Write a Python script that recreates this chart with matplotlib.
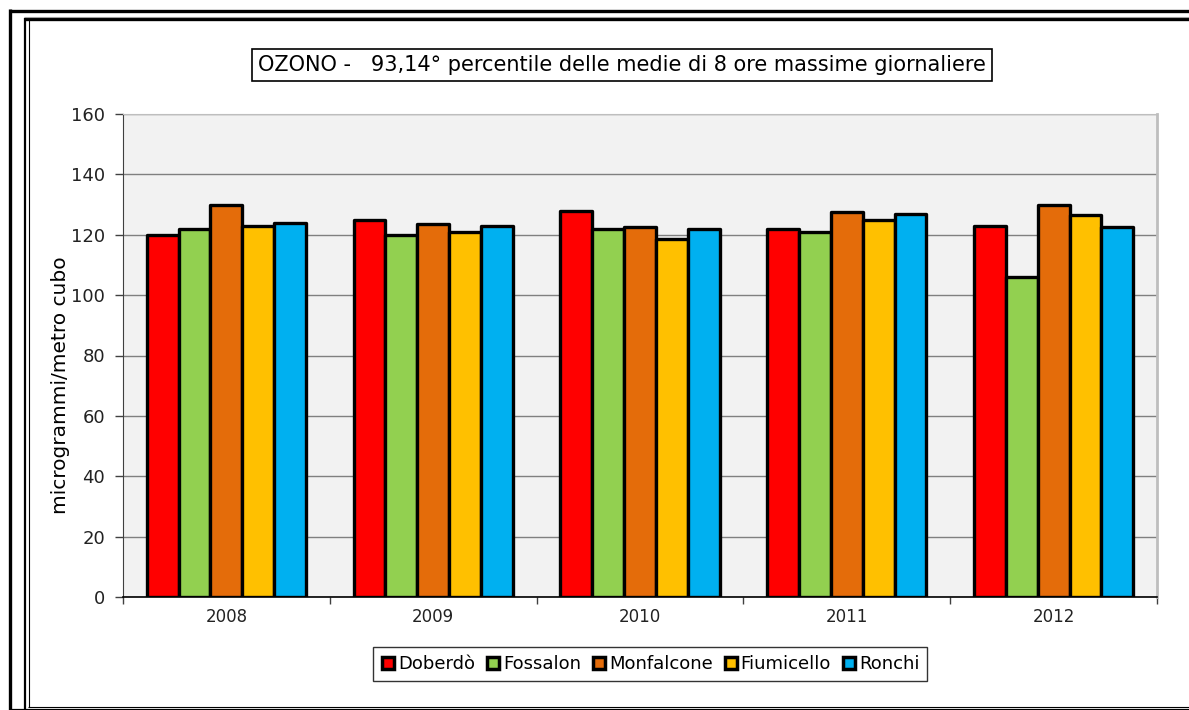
import matplotlib
matplotlib.use("Agg")
import matplotlib.pyplot as plt
from matplotlib.lines import Line2D
import numpy as np

plt.rcParams['font.family'] = ['DejaVu Sans']

years = ['2008', '2009', '2010', '2011', '2012']
stations = ['Doberdò', 'Fossalon', 'Monfalcone', 'Fiumicello', 'Ronchi']
colors = ['#FF0000', '#92D050', '#E46C0A', '#FFC000', '#00B0F0']

doberdo = [120, 125, 128, 122, 123]
fossalon = [122, 120, 122, 121, 106]
monfalcone = [130, 123.5, 122.5, 127.5, 130]
fiumicello = [123, 121, 118.5, 125, 126.5]
ronchi = [124, 123, 122, 127, 122.5]
series = [doberdo, fossalon, monfalcone, fiumicello, ronchi]

yticks = [0, 20, 40, 60, 80, 100, 120, 140, 160]

W, H = 1189, 710
fig = plt.figure(figsize=(W / 100, H / 100), dpi=100)
fig.patch.set_facecolor('white')

def px(x):
    return x / W

def py(y):
    return 1 - y / H

ax = fig.add_axes([px(123), py(597), px(1157) - px(123), py(114) - py(597)])
ax.set_facecolor('#F2F2F2')

n = len(stations)
group = 1 / 1.3
bw = group / n
x = np.arange(len(years))
for i, (vals, col) in enumerate(zip(series, colors)):
    offs = -group / 2 + bw * (i + 0.5)
    bars = ax.bar(x + offs, vals, width=bw, color=col, edgecolor='black',
                  linewidth=2.4, zorder=3, label=stations[i])
    for b in bars:
        b.set_joinstyle('round')

ax.set_xlim(-0.5, len(years) - 0.5)
ax.set_ylim(0, 160)
ax.set_yticks(yticks)
ax.set_yticklabels([str(v) for v in yticks], fontsize=13, color='#222222')
ax.yaxis.grid(True, color='#808080', linewidth=1.0, zorder=0)
ax.set_axisbelow(True)

# category boundaries carry the tick marks, labels sit at the centres
ax.set_xticks(np.arange(len(years) + 1) - 0.5)
ax.set_xticklabels([''] * (len(years) + 1))
ax.set_xticks(x, minor=True)
ax.set_xticklabels(years, minor=True, fontsize=12, color='#222222')
ax.tick_params(axis='x', which='major', length=5, width=1, color='#404040')
ax.tick_params(axis='x', which='minor', length=0, pad=8)
ax.tick_params(axis='y', length=6, width=1, color='#404040', pad=7)

ax.spines['left'].set_color('#404040')
ax.spines['bottom'].set_color('black')
ax.spines['bottom'].set_linewidth(1.2)
ax.spines['top'].set_color('#BEBEBE')
ax.spines['right'].set_color('#BEBEBE')
ax.spines['right'].set_linewidth(2)

fig.text(px(61), py(385), 'microgrammi/metro cubo', rotation=90,
         ha='center', va='center', fontsize=14.5)

fig.text(px(622), py(65),
         'OZONO -   93,14° percentile delle medie di 8 ore massime giornaliere',
         ha='center', va='center', fontsize=15,
         bbox=dict(boxstyle='square,pad=0.3', facecolor='white',
                   edgecolor='black', linewidth=1.2))

handles = [Line2D([0], [0], marker='s', linestyle='none', markersize=9,
                  markerfacecolor=c, markeredgecolor='black', markeredgewidth=2.5)
           for c in colors]
leg = fig.legend(handles, stations, loc='center', bbox_to_anchor=(px(650), py(664)),
                 ncol=5, fontsize=13, frameon=True, fancybox=False,
                 handlelength=0.8, handletextpad=0.15, columnspacing=0.6,
                 borderpad=0.45, edgecolor='black')
leg.get_frame().set_linewidth(1.0)

# double page frame
def hline(y, x0, x1, lw, color='black'):
    fig.add_artist(Line2D([px(x0), px(x1)], [py(y), py(y)], lw=lw, color=color,
                          transform=fig.transFigure, solid_capstyle='butt'))

def vline(x0, y0, y1, lw, color='black'):
    fig.add_artist(Line2D([px(x0), px(x0)], [py(y0), py(y1)], lw=lw, color=color,
                          transform=fig.transFigure, solid_capstyle='butt'))

hline(10.5, 8.5, W, 2.4)
vline(10, 9, H, 2.4)
hline(19, 24, W, 2.4)
hline(16.5, 24, W, 0.8, '#A0A0A0')
vline(25, 18, H, 1.6)
vline(28.5, 20, 707, 0.8)
hline(706.5, 28, W, 0.8)
hline(709.5, 9, W, 1.6)

fig.savefig('out.png', dpi=100)
